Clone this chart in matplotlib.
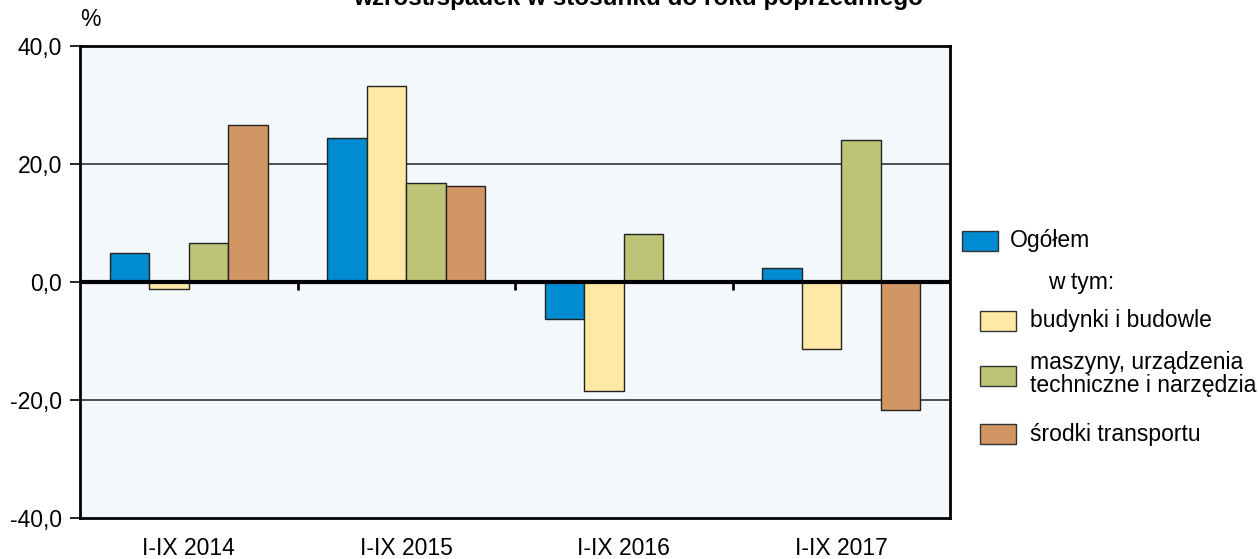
import matplotlib
matplotlib.use("Agg")
import matplotlib.pyplot as plt
import numpy as np
from matplotlib.patches import Rectangle

plt.rcParams['font.family'] = ['Liberation Sans', 'DejaVu Sans']

categories = ["I-IX 2014", "I-IX 2015", "I-IX 2016", "I-IX 2017"]
series_names = ["Ogółem", "budynki i budowle",
                "maszyny, urządzenia\ntechniczne i narzędzia", "środki transportu"]
ogolem = [4.9, 24.4, -6.3, 2.3]
budynki = [-1.2, 33.2, -18.5, -11.4]
maszyny = [6.6, 16.7, 8.1, 24.0]
transport = [26.6, 16.2, 0.0, -21.7]
colors = ["#008BD2", "#FFE9A5", "#BDC476", "#D29664"]
yticks = [-40, -20, 0, 20, 40]
title = "wzrost/spadek w stosunku do roku poprzedniego"

FS = 16.5
W, H = 1258, 559
fig = plt.figure(figsize=(W / 100, H / 100), dpi=100)
ax = fig.add_axes([80 / W, 1 - 518 / H, (950 - 80) / W, (518 - 46) / H])
ax.set_facecolor("#F3F8FC")

x = np.arange(len(categories))
bw = 0.182
data = [ogolem, budynki, maszyny, transport]
for i, (vals, c) in enumerate(zip(data, colors)):
    ax.bar(x + (i - 1.5) * bw, vals, width=bw, color=c, edgecolor="#222222",
           linewidth=1.0, zorder=2)

ax.set_xlim(-0.5, len(categories) - 0.5)
ax.set_ylim(-40, 40)
ax.set_yticks(yticks)
ax.set_yticklabels([f"{v:.1f}".replace(".", ",") for v in yticks], fontsize=FS)
for v in yticks:
    if v not in (0, -40, 40):
        ax.axhline(v, color="#333333", lw=1.2, zorder=1)
ax.axhline(0, color="black", lw=3, zorder=3)
# group separator ticks below zero line
ax.vlines(x[:-1] + 0.5, -1.4, 0, color="black", lw=2, zorder=3)

ax.set_xticks(x)
ax.set_xticklabels(categories, fontsize=FS)
ax.tick_params(axis="x", length=0, pad=14)
ax.tick_params(axis="y", length=7, width=1.2, pad=6)
for s in ax.spines.values():
    s.set_linewidth(2)
    s.set_color("black")

fig.text(90 / W, 1 - 20 / H, "%", fontsize=FS, ha="center", va="center")
fig.text(638 / W, 1 - 5 / H, title, fontsize=17.5, fontweight="bold",
         ha="center", va="baseline")

# legend
def patch(x0, y0, c):
    fig.patches.append(Rectangle((x0 / W, 1 - (y0 + 20) / H), 36 / W, 20 / H,
                                 transform=fig.transFigure, facecolor=c,
                                 edgecolor="#333333", lw=1))

patch(962, 231, colors[0])
fig.text(1010 / W, 1 - 241 / H, series_names[0], fontsize=FS, va="center")
fig.text(1048 / W, 1 - 282 / H, "w tym:", fontsize=FS, va="center")
patch(980, 311, colors[1])
fig.text(1030 / W, 1 - 321 / H, series_names[1], fontsize=FS, va="center")
patch(980, 366, colors[2])
fig.text(1030 / W, 1 - 374 / H, series_names[2], fontsize=FS, va="center",
         linespacing=1.0)
patch(980, 424, colors[3])
fig.text(1030 / W, 1 - 434 / H, series_names[3], fontsize=FS, va="center")

fig.savefig("out.png", dpi=100)
